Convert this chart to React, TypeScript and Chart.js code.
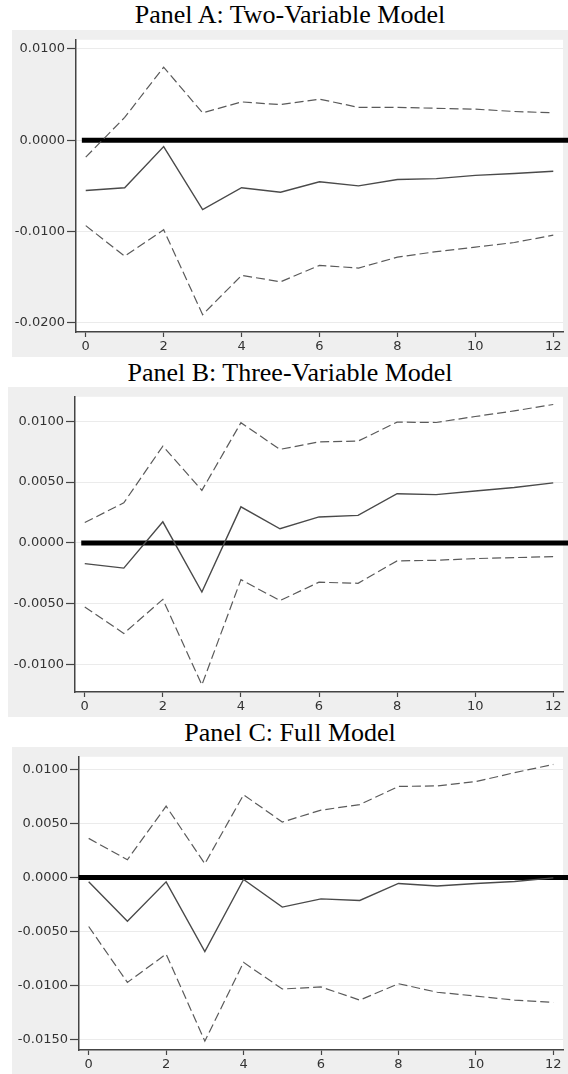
import React, { useEffect, useRef } from "react";
import { Chart, registerables } from "chart.js";

Chart.register(...registerables);

// ---- data ----
const STEPS = [0, 1, 2, 3, 4, 5, 6, 7, 8, 9, 10, 11, 12];
const X_TICKS = [0, 2, 4, 6, 8, 10, 12];

const A_TITLE = "Panel A: Two-Variable Model";
const A_IRF = [-0.0055, -0.0052, -0.0007, -0.0076, -0.0052, -0.0057, -0.00455, -0.005, -0.0043, -0.0042, -0.00385, -0.00365, -0.0034];
const A_UPPER = [-0.00185, 0.0025, 0.008, 0.003, 0.0042, 0.0039, 0.0045, 0.0036, 0.0036, 0.0035, 0.0034, 0.00315, 0.003];
const A_LOWER = [-0.00935, -0.0127, -0.0098, -0.0191, -0.0148, -0.0155, -0.0137, -0.014, -0.0128, -0.0122, -0.0117, -0.0112, -0.0104];
const A_Y_TICKS = [-0.02, -0.01, 0, 0.01];

const B_TITLE = "Panel B: Three-Variable Model";
const B_IRF = [-0.0017, -0.00207, 0.00173, -0.00404, 0.00296, 0.00116, 0.00213, 0.00226, 0.00404, 0.00396, 0.00426, 0.00455, 0.00493];
const B_UPPER = [0.00167, 0.00329, 0.00795, 0.00431, 0.00987, 0.00768, 0.0083, 0.00836, 0.00992, 0.00989, 0.01038, 0.01084, 0.01137];
const B_LOWER = [-0.00526, -0.00744, -0.00464, -0.01167, -0.00302, -0.00474, -0.00323, -0.00332, -0.00148, -0.00143, -0.00129, -0.00121, -0.00113];
const B_Y_TICKS = [-0.01, -0.005, 0, 0.005, 0.01];

const C_TITLE = "Panel C: Full Model";
const C_IRF = [-0.0004, -0.00405, -0.0004, -0.00686, -0.00018, -0.00274, -0.00198, -0.00213, -0.00055, -0.00079, -0.00055, -0.00037, -0.00003];
const C_UPPER = [0.00363, 0.00165, 0.00662, 0.00128, 0.00768, 0.00515, 0.00625, 0.00677, 0.00845, 0.0085, 0.0089, 0.00973, 0.01049];
const C_LOWER = [-0.00454, -0.00973, -0.0071, -0.01518, -0.00787, -0.01034, -0.01015, -0.01137, -0.00985, -0.01064, -0.011, -0.01137, -0.01159];
const C_Y_TICKS = [-0.015, -0.01, -0.005, 0, 0.005, 0.01];

// zero reference line extent (x values)
const A_ZERO_X = [-0.1, 12.5];
const B_ZERO_X = [-0.09, 12.5];
const C_ZERO_X = [-0.26, 12.5];

const FONT = "'DejaVu Sans', 'Liberation Sans', Arial, sans-serif";

const whiteArea = {
  id: "whiteArea",
  beforeDraw(chart: any) {
    const { ctx, chartArea } = chart;
    ctx.save();
    ctx.fillStyle = "#ffffff";
    ctx.fillRect(chartArea.left, chartArea.top, chartArea.right - chartArea.left, chartArea.bottom - chartArea.top);
    ctx.restore();
  },
};

type PanelProps = {
  title: string;
  irf: number[];
  upper: number[];
  lower: number[];
  yTicks: number[];
  zeroX: number[];
  yMin: number;
  yMax: number;
  box: { left: number; top: number; width: number; height: number };
  titleTop: number;
  yW: number;
  xH: number;
  padTop: number;
};

function Panel(p: PanelProps) {
  const ref = useRef<HTMLCanvasElement | null>(null);
  useEffect(() => {
    if (!ref.current) return;
    const pts = (arr: number[]) => arr.map((v, i) => ({ x: STEPS[i], y: v }));
    const chart = new Chart(ref.current, {
      type: "line",
      data: {
        datasets: [
          {
            data: pts(p.upper),
            borderColor: "#5a5a5a",
            borderWidth: 1.2,
            borderDash: [9, 4],
            pointRadius: 0,
            tension: 0,
          },
          {
            data: pts(p.lower),
            borderColor: "#5a5a5a",
            borderWidth: 1.2,
            borderDash: [9, 4],
            pointRadius: 0,
            tension: 0,
          },
          {
            data: pts(p.irf),
            borderColor: "#4a4a4a",
            borderWidth: 1.4,
            pointRadius: 0,
            tension: 0,
          },
          {
            data: p.zeroX.map((x) => ({ x, y: 0 })),
            borderColor: "#000000",
            borderWidth: 5,
            pointRadius: 0,
            clip: false as any,
          },
        ],
      },
      options: {
        animation: false,
        responsive: false,
        maintainAspectRatio: false,
        layout: { padding: { top: p.padTop, right: 5, left: 0, bottom: 0 } },
        plugins: { legend: { display: false }, tooltip: { enabled: false }, title: { display: false } },
        scales: {
          x: {
            type: "linear",
            min: -0.25,
            max: 12.25,
            afterBuildTicks: (s: any) => {
              s.ticks = X_TICKS.map((v) => ({ value: v }));
            },
            afterFit: (s: any) => {
              s.height = p.xH;
            },
            grid: { drawOnChartArea: false, tickLength: 5, tickColor: "#444", tickWidth: 1.2 },
            border: { color: "#444", width: 1.5 },
            ticks: { color: "#333", font: { family: FONT, size: 13 }, padding: 2, maxRotation: 0 },
          },
          y: {
            type: "linear",
            min: p.yMin,
            max: p.yMax,
            afterBuildTicks: (s: any) => {
              s.ticks = p.yTicks.map((v) => ({ value: v }));
            },
            afterFit: (s: any) => {
              s.width = p.yW;
            },
            grid: { color: "#ebebeb", lineWidth: 1, tickLength: 9, tickColor: "#444", tickWidth: 1.2 },
            border: { color: "#444", width: 1.5 },
            ticks: {
              color: "#333",
              font: { family: FONT, size: 13 },
              padding: 2,
              callback: (v: any) => Number(v).toFixed(4),
            },
          },
        },
      },
      plugins: [whiteArea],
    });
    return () => chart.destroy();
  }, []);
  return (
    <>
      <div
        style={{
          position: "absolute",
          left: 12,
          width: 556,
          top: p.titleTop,
          textAlign: "center",
          fontFamily: "'Liberation Serif', 'Times New Roman', serif",
          fontSize: 26,
          lineHeight: "26px",
          color: "#000",
          whiteSpace: "nowrap",
        }}
      >
        {p.title}
      </div>
      <canvas
        ref={ref}
        width={p.box.width}
        height={p.box.height}
        style={{
          position: "absolute",
          left: p.box.left,
          top: p.box.top,
          width: p.box.width,
          height: p.box.height,
          background: "#efefef",
        }}
      />
    </>
  );
}

export default function App() {
  return (
    <div style={{ position: "absolute", left: 0, top: 0, width: 568, height: 1074, overflow: "hidden", background: "#fff" }}>
      <Panel
        title={A_TITLE}
        irf={A_IRF}
        upper={A_UPPER}
        lower={A_LOWER}
        yTicks={A_Y_TICKS}
        zeroX={A_ZERO_X}
        yMin={-0.021}
        yMax={0.011}
        box={{ left: 12, top: 30, width: 556, height: 327 }}
        titleTop={2}
        yW={64}
        xH={25}
        padTop={2}
      />
      <Panel
        title={B_TITLE}
        irf={B_IRF}
        upper={B_UPPER}
        lower={B_LOWER}
        yTicks={B_Y_TICKS}
        zeroX={B_ZERO_X}
        yMin={-0.01225}
        yMax={0.012}
        box={{ left: 8, top: 387, width: 560, height: 330 }}
        titleTop={360}
        yW={67}
        xH={25}
        padTop={4}
      />
      <Panel
        title={C_TITLE}
        irf={C_IRF}
        upper={C_UPPER}
        lower={C_LOWER}
        yTicks={C_Y_TICKS}
        zeroX={C_ZERO_X}
        yMin={-0.016}
        yMax={0.0112}
        box={{ left: 12, top: 747, width: 556, height: 327 }}
        titleTop={720}
        yW={67}
        xH={24}
        padTop={6}
      />
    </div>
  );
}
